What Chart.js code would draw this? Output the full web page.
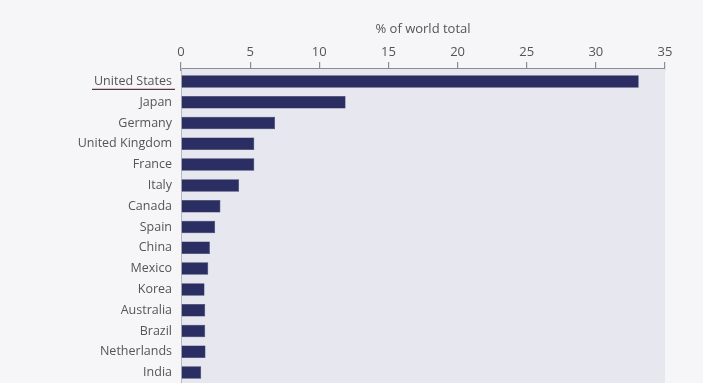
<!DOCTYPE html>
<html>
<head>
<meta charset="utf-8">
<script src="https://cdn.jsdelivr.net/npm/chart.js@4/dist/chart.umd.min.js"></script>
<style>
html,body{margin:0;padding:0;background:#f6f6f9;}
canvas{display:block;}
</style>
</head>
<body>
<canvas id="c" width="703" height="383"></canvas>
<script>
const countries = ["United States","Japan","Germany","United Kingdom","France","Italy","Canada","Spain","China","Mexico","Korea","Australia","Brazil","Netherlands","India"];
const shareOfWorld = [33.1, 11.9, 6.8, 5.3, 5.3, 4.2, 2.85, 2.47, 2.09, 1.97, 1.70, 1.75, 1.75, 1.77, 1.46];
const xTicks = [0, 5, 10, 15, 20, 25, 30, 35];
const axisTitle = "% of world total";

const FONT = "'Open Sans', sans-serif";

const decor = {
  id: 'decor',
  beforeDraw(chart) {
    const ctx = chart.ctx;
    ctx.save();
    ctx.fillStyle = '#f6f6f9';
    ctx.fillRect(0, 0, chart.width, chart.height);
    ctx.restore();
  },
  beforeDatasetsDraw(chart) {
    const {ctx, chartArea} = chart;
    const top = chartArea.top - 3;
    ctx.save();
    ctx.fillStyle = '#e7e7ef';
    ctx.fillRect(chartArea.left, top, chartArea.right - chartArea.left, chartArea.bottom - top);
    ctx.strokeStyle = '#8c8c96';
    ctx.lineWidth = 1.2;
    ctx.beginPath();
    ctx.moveTo(chartArea.left, top + 0.5);
    ctx.lineTo(chartArea.right, top + 0.5);
    ctx.stroke();
    ctx.strokeStyle = '#b8b8c0';
    ctx.lineWidth = 1;
    ctx.beginPath();
    ctx.moveTo(chartArea.left + 0.5, top);
    ctx.lineTo(chartArea.left + 0.5, chartArea.bottom);
    ctx.stroke();
    // underline beneath first category label
    const y = chart.scales.y.getPixelForValue(0) + 8;
    ctx.strokeStyle = '#5a3540';
    ctx.lineWidth = 1.3;
    ctx.beginPath();
    ctx.moveTo(chartArea.left - 89, y);
    ctx.lineTo(chartArea.left - 6, y);
    ctx.stroke();
    ctx.restore();
  }
};

new Chart(document.getElementById('c'), {
  type: 'bar',
  data: {
    labels: countries,
    datasets: [{
      data: shareOfWorld,
      backgroundColor: '#2a2e63',
      borderColor: '#22254d',
      borderWidth: 0.5,
      barPercentage: 0.6,
      categoryPercentage: 1.0
    }]
  },
  options: {
    indexAxis: 'y',
    responsive: false,
    animation: false,
    layout: { padding: { left: 0, right: 38, top: 0, bottom: 0 } },
    plugins: { legend: { display: false }, tooltip: { enabled: false } },
    scales: {
      x: {
        position: 'top',
        min: 0, max: 35,
        afterBuildTicks(scale) { scale.ticks = xTicks.map(v => ({ value: v })); },
        afterFit(scale) { scale.height = 71; scale.paddingLeft = 0; scale.paddingRight = 0; },
        grid: { drawOnChartArea: false, drawTicks: true, tickLength: 9, color: '#8c8c96', lineWidth: 1.2 },
        border: { display: false },
        ticks: { color: '#555', font: { family: FONT, size: 13 }, padding: 2 },
        title: { display: true, text: axisTitle, color: '#555', font: { family: FONT, size: 13 }, padding: { top: 21, bottom: 0 } }
      },
      y: {
        afterFit(scale) { scale.width = 181; scale.paddingTop = 0; scale.paddingBottom = 0; },
        grid: { display: false, drawTicks: false },
        border: { display: false },
        ticks: { color: '#555', font: { family: FONT, size: 12.5 }, padding: 9 }
      }
    }
  },
  plugins: [decor]
});
</script>
</body>
</html>
